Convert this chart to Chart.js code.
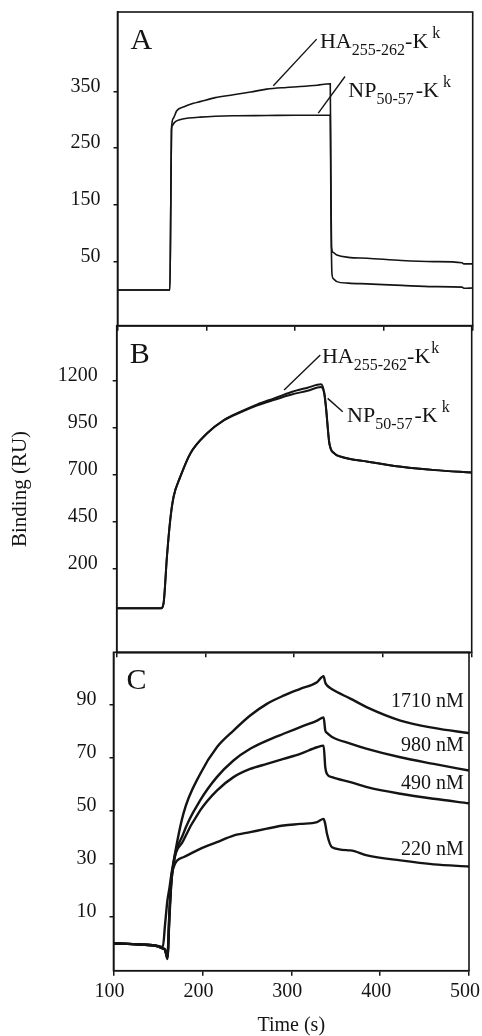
<!DOCTYPE html>
<html lang="en">
<head>
    <meta charset="UTF-8">
    <title>Binding (RU) vs Time (s)</title>
    <script src="https://cdn.jsdelivr.net/npm/chart.js@4.4.8/dist/chart.umd.min.js"></script>
    <style>
        html, body { margin: 0; padding: 0; background: #fff; }
        #wrap { position: relative; width: 482px; height: 1036px; overflow: hidden; }
        #wrap canvas { position: absolute; left: 0; }
    </style>
</head>
<body>
<div id="wrap">
    <canvas id="chartA" width="482" height="340" style="top:0"></canvas>
    <canvas id="chartB" width="482" height="340" style="top:320px"></canvas>
    <canvas id="chartC" width="482" height="396" style="top:640px"></canvas>
</div>

<script>
    // tick labels
    const timeTicks = [100, 200, 300, 400, 500];
    const ticksA = [50, 150, 250, 350];
    const ticksB = [200, 450, 700, 950, 1200];
    const ticksC = [10, 30, 50, 70, 90];

    // panel A: HA255-262-Kk and NP50-57-Kk
    const timeHA_A = [100, 159, 160, 160.8, 163, 166.7, 175, 185.5, 193, 210, 230.5, 250, 268, 290, 305.6, 325, 339.6, 340.3, 341, 343, 347, 360, 381, 420, 456, 488, 490, 500];
    const valHA_A  = [0, 0, 150, 285, 303, 316, 323, 329, 332, 339, 344, 349, 354, 357, 358.6, 361, 363.4, 200, 76, 66, 61.8, 57.5, 56, 52, 50, 48, 46, 46];
    const timeNP_A = [100, 159, 160, 160.8, 162, 164, 170, 180, 193, 230, 268, 300, 339.6, 340.3, 341.5, 343, 347, 360, 381, 420, 456, 488, 490, 500];
    const valNP_A  = [0, 0, 150, 282, 290, 295, 300, 303, 304.7, 307, 307.5, 308, 308, 150, 29, 20, 14.7, 12, 10.7, 8, 5.9, 5, 3, 3.5];

    // panel B
    const timeB = [100, 150, 152.8, 156.6, 160.3, 164.1, 171.7, 183, 201.9, 220.7, 239.6, 258.5, 277.3, 296.2, 315.1, 330.2, 333.9, 335.8, 339.6, 345.2, 352.8, 383, 420.7, 458.4, 500];
    const valHA_B = [-13, -13, 14, 262, 457, 581, 688, 812, 919, 990, 1034, 1073, 1105, 1138, 1162, 1180, 1135, 1060, 866, 812, 794, 768, 741, 723, 711];
    const valNP_B = [-13, -13, 14, 262, 457, 581, 688, 812, 919, 988, 1031, 1068, 1097, 1124, 1146, 1165, 1128, 1055, 866, 812, 794, 768, 741, 723, 711];

    // panel C: concentrations
    const timeC = [100, 130, 150, 155.5, 158, 160.6, 163, 165.6, 178.6, 197.5, 216.3, 235, 253.8, 272.6, 291.3, 310.1, 329, 336.4, 338.3, 340.2, 345.9, 366.5, 385.3, 422.8, 460.3, 500];
    const val1710 = [0, -0.5, -1, -1.5, 7, 16, 21, 27, 48.9, 64, 74.1, 80.4, 86.1, 90.5, 93.6, 96.2, 98.7, 101, 98.5, 97.5, 96, 92.5, 89.2, 84.2, 81.4, 79.4];
    const val980  = [0, -0.5, -1.2, -2, -2.5, -5, 12, 25, 41.4, 54, 62.8, 69.1, 73.5, 76.6, 79.2, 81.7, 84.2, 85.4, 80.4, 79.5, 78, 75.5, 73.5, 70.3, 67.8, 65.3];
    const val490  = [0, -0.5, -1.2, -2, -2.5, -5.5, 10, 25, 38.8, 50.2, 57.7, 62.8, 65.9, 67.8, 69.7, 71.6, 74.1, 74.7, 66.5, 64, 62.8, 60.9, 59, 56.5, 54.6, 52.9];
    const val220  = [0, -0.5, -1.2, -2, -2.5, -6, 12, 26.3, 32.5, 35.7, 38.2, 40.7, 42, 43.3, 44.5, 45.1, 45.8, 47, 45, 41.4, 36.3, 35.1, 33.2, 31.3, 29.8, 29];
    const concLabels = ['1710 nM', '980 nM', '490 nM', '220 nM'];
    const concLabelY = [89.2, 72.5, 58.4, 33.2];

    const FONT = '"Liberation Serif", "Times New Roman", serif';
    const INK = '#141414';

    // frame, panel letter and annotations
    const framePlugin = {
        id: 'frame',
        afterDraw(chart, args, opts) {
            const { ctx, chartArea: a, scales } = chart;
            const px = t => scales.x.getPixelForValue(t);
            const py = v => scales.y.getPixelForValue(v);
            ctx.save();
            ctx.strokeStyle = INK;
            ctx.lineWidth = 1.6;
            ctx.strokeRect(a.left, a.top, a.right - a.left, a.bottom - a.top);

            ctx.fillStyle = INK;
            ctx.textBaseline = 'alphabetic';
            ctx.font = '30px ' + FONT;
            ctx.fillText(opts.letter, a.left + 13, a.top + 37);

            (opts.notes || []).forEach(n => {
                ctx.lineWidth = 1.4;
                ctx.beginPath();
                ctx.moveTo(px(n.line[0]), py(n.line[1]));
                ctx.lineTo(px(n.line[2]), py(n.line[3]));
                ctx.stroke();
                let cx = px(n.at[0]);
                const by = py(n.at[1]);
                n.parts.forEach(p => {
                    const size = p.k === 'n' ? 22 : 16;
                    const dy = p.k === 'sub' ? 7 : (p.k === 'sup' ? -10 : 0);
                    ctx.font = size + 'px ' + FONT;
                    cx += p.gap || 0;
                    ctx.fillText(p.s, cx, by + dy);
                    cx += ctx.measureText(p.s).width;
                });
            });

            if (opts.rightLabels) {
                ctx.font = '20px ' + FONT;
                ctx.textAlign = 'right';
                opts.rightLabels.text.forEach((s, i) => {
                    ctx.fillText(s, px(opts.rightLabels.t), py(opts.rightLabels.v[i]));
                });
            }
            ctx.restore();
        }
    };

    const haParts = [{ s: 'HA', k: 'n' }, { s: '255-262', k: 'sub' }, { s: '-K', k: 'n' }, { s: 'k', k: 'sup', gap: 4 }];
    const npParts = [{ s: 'NP', k: 'n' }, { s: '50-57', k: 'sub' }, { s: '-K', k: 'n', gap: 2 }, { s: 'k', k: 'sup', gap: 4 }];

    function series(t, v, w) {
        return {
            data: t.map((x, i) => ({ x: x, y: v[i] })),
            borderColor: INK,
            borderWidth: w,
            pointRadius: 0,
            fill: false,
            cubicInterpolationMode: 'monotone'
        };
    }

    // keep the plot box where it is: no extra room for end labels
    function noPadding(s) {
        s.paddingTop = 0;
        s.paddingBottom = 0;
        s.paddingLeft = 0;
        s.paddingRight = 0;
    }

    function makeChart(id, cfg) {
        return new Chart(document.getElementById(id), {
            type: 'line',
            data: { datasets: cfg.datasets },
            options: {
                responsive: false,
                animation: false,
                layout: { padding: cfg.pad },
                plugins: {
                    legend: { display: false },
                    tooltip: { enabled: false },
                    frame: cfg.frame
                },
                scales: {
                    x: {
                        type: 'linear',
                        min: 100,
                        max: 500,
                        afterBuildTicks: s => { s.ticks = timeTicks.map(v => ({ value: v })); },
                        afterFit: s => { s.height = cfg.xh; noPadding(s); },
                        grid: { drawOnChartArea: false, tickLength: 5, color: INK, lineWidth: 1.5 },
                        border: { color: INK, width: 1.6 },
                        ticks: {
                            display: cfg.xLabels,
                            autoSkip: false,
                            maxRotation: 0,
                            padding: 4,
                            labelOffset: -4,
                            color: INK,
                            callback: v => String(v),
                            font: { family: FONT, size: 20 }
                        },
                        title: {
                            display: cfg.xLabels,
                            text: 'Time (s)',
                            color: INK,
                            padding: { top: 0, bottom: 0 },
                            font: { family: FONT, size: 20, lineHeight: 1 }
                        }
                    },
                    y: {
                        type: 'linear',
                        min: cfg.yMin,
                        max: cfg.yMax,
                        afterBuildTicks: s => { s.ticks = cfg.yTicks.map(v => ({ value: v })); },
                        afterFit: s => { s.width = cfg.yw; noPadding(s); },
                        grid: { drawOnChartArea: false, tickLength: 4, color: INK, lineWidth: 1.5 },
                        border: { color: INK, width: 1.6 },
                        ticks: {
                            autoSkip: false,
                            padding: cfg.yPad,
                            labelOffset: -5,
                            color: INK,
                            callback: v => String(v),
                            font: { family: FONT, size: 20 }
                        },
                        title: {
                            display: !!cfg.yTitle,
                            text: cfg.yTitle || '',
                            color: INK,
                            padding: { top: 8, bottom: 0 },
                            font: { family: FONT, size: 21 }
                        }
                    }
                }
            },
            plugins: [framePlugin]
        });
    }

    makeChart('chartA', {
        datasets: [series(timeHA_A, valHA_A, 1.6), series(timeNP_A, valNP_A, 1.6)],
        pad: { top: 12, right: 9.3, bottom: 0, left: 0 },
        xh: 14.3, yw: 117.5, yPad: 13,
        yMin: -63, yMax: 490, yTicks: ticksA,
        xLabels: false,
        frame: {
            letter: 'A',
            notes: [
                { line: [275.5, 359.9, 324.3, 442.2], at: [328, 426], parts: haParts },
                { line: [326.1, 311.7, 356.2, 376.3], at: [359.9, 341], parts: npParts }
            ]
        }
    });

    makeChart('chartB', {
        datasets: [series(timeB, valHA_B, 2), series(timeB, valNP_B, 2)],
        pad: { top: 5.7, right: 10.3, bottom: 0, left: 0 },
        xh: 7.7, yw: 116.7, yPad: 15,
        yMin: -247, yMax: 1492, yTicks: ticksB,
        xLabels: false,
        yTitle: 'Binding (RU)',
        frame: {
            letter: 'B',
            notes: [
                { line: [288.6, 1149, 329.4, 1336], at: [331.3, 1292], parts: haParts.map((p, i) => i === 3 ? { s: 'k', k: 'sup', gap: 1 } : p) },
                { line: [337.7, 1105, 354.7, 1034], at: [359.6, 981], parts: npParts }
            ]
        }
    });

    makeChart('chartC', {
        datasets: [
            series(timeC, val1710, 2.4),
            series(timeC, val980, 2.4),
            series(timeC, val490, 2.4),
            series(timeC, val220, 2.4)
        ],
        pad: { top: 12.3, right: 13, bottom: 0, left: 0 },
        xh: 65.3, yw: 113.5, yPad: 13,
        yMin: -10.4, yMax: 110, yTicks: ticksC,
        xLabels: true,
        frame: {
            letter: 'C',
            rightLabels: { t: 494, v: concLabelY, text: concLabels }
        }
    });
</script>
</body>
</html>
